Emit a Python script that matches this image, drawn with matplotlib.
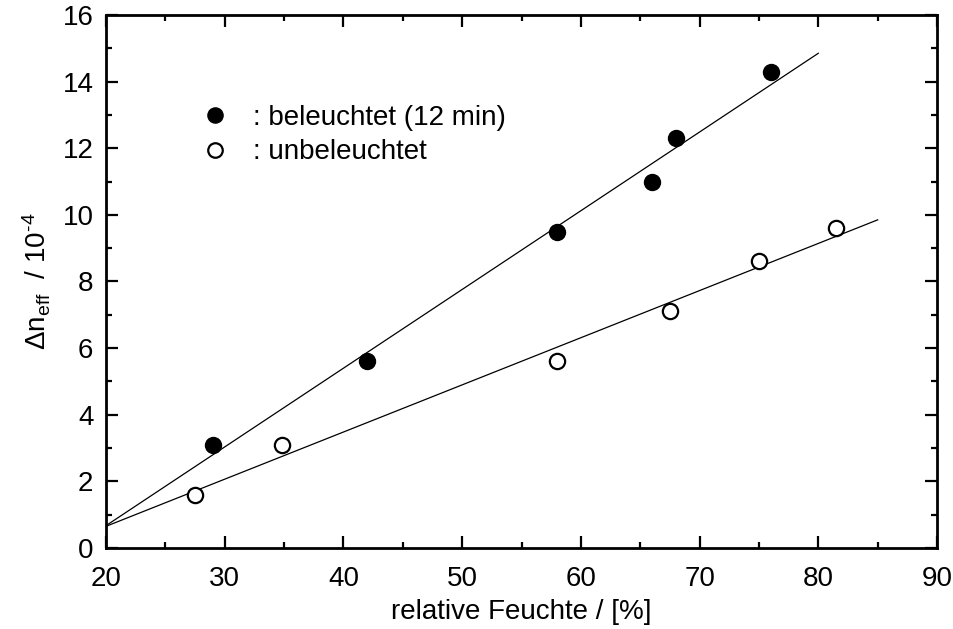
import numpy as np
import matplotlib.pyplot as plt
from matplotlib.ticker import MultipleLocator

plt.rcParams['font.family'] = ['Liberation Sans', 'DejaVu Sans']
plt.rcParams['mathtext.fontset'] = 'custom'
plt.rcParams['mathtext.rm'] = 'Liberation Sans'
plt.rcParams['mathtext.it'] = 'Liberation Sans'
plt.rcParams['mathtext.default'] = 'regular'

rh_lit = [29, 42, 58, 66, 68, 76]
dn_lit = [3.1, 5.6, 9.5, 11.0, 12.3, 14.3]

rh_dark = [27.5, 34.8, 58, 67.5, 75, 81.5]
dn_dark = [1.6, 3.1, 5.6, 7.1, 8.6, 9.6]

# linear fits (end points)
fit_lit_x = [20, 80]
fit_lit_y = [0.67, 14.85]
fit_dark_x = [20, 85]
fit_dark_y = [0.65, 9.85]

fs = 20

fig = plt.figure(figsize=(9.54, 6.29), dpi=100)
ax = fig.add_axes([0.1111, 0.1288, 0.8711, 0.8474])

ax.plot(fit_lit_x, fit_lit_y, color='black', lw=0.9)
ax.plot(fit_dark_x, fit_dark_y, color='black', lw=0.9)

h1, = ax.plot(rh_lit, dn_lit, 'o', ms=11.5, mfc='black', mec='black', ls='none')
h2, = ax.plot(rh_dark, dn_dark, 'o', ms=11, mfc='white', mec='black', mew=1.6, ls='none')

ax.legend([h1, h2], [': beleuchtet (12 min)', ': unbeleuchtet'],
          loc='upper left', bbox_to_anchor=(201 / 954, 1 - 105 / 629),
          bbox_transform=fig.transFigure, frameon=False, fontsize=fs,
          handlelength=1.0, handletextpad=0.87, labelspacing=0.3,
          borderpad=0, borderaxespad=0, markerscale=0.95)

ax.set_xlim(20, 90)
ax.set_ylim(0, 16)
ax.xaxis.set_major_locator(MultipleLocator(10))
ax.xaxis.set_minor_locator(MultipleLocator(5))
ax.yaxis.set_major_locator(MultipleLocator(2))
ax.yaxis.set_minor_locator(MultipleLocator(1))

ax.tick_params(which='both', direction='in', top=True, right=True, width=1.6, labelsize=fs)
ax.tick_params(which='major', length=8.5)
ax.tick_params(which='minor', length=4.5)
ax.tick_params(axis='x', pad=13)
ax.tick_params(axis='y', pad=9)
for s in ax.spines.values():
    s.set_linewidth(2)

ax.set_xlabel('relative Feuchte / [%]', fontsize=fs, labelpad=5)
ax.set_ylabel(r'$\Delta$n$_{eff}$  / 10$^{\text{-}4}$', fontsize=fs, labelpad=7)

fig.savefig('out.png', dpi=100)
